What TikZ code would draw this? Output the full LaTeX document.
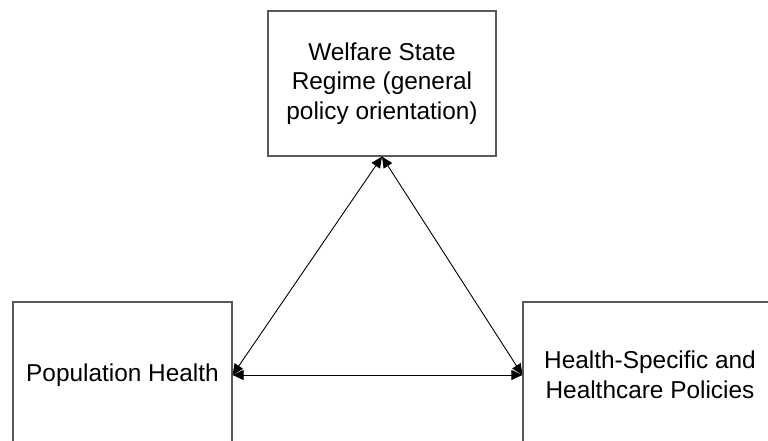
\documentclass[tikz,border=0pt]{standalone}
\usepackage{fontspec}
\setmainfont{Liberation Sans}
\usetikzlibrary{arrows.meta}
\begin{document}
\begin{tikzpicture}[x=1pt,y=-1pt,
  factor/.style={draw=black!65,line width=1.2pt,align=center,inner sep=0pt,
    font=\fontsize{24.4}{29.5}\selectfont},
  link/.style={line width=0.9pt,{Triangle[length=11pt,width=10pt]}-{Triangle[length=11pt,width=10pt]}}]
  \useasboundingbox (0,0) rectangle (768,441);
  \clip (0,0) rectangle (768,441);
  % the three factors
  \node[factor,minimum width=228pt,minimum height=145pt] (regime) at (382,83.5)
    {\raisebox{-2pt}{\parbox{228pt}{\centering Welfare State\\Regime (general\\policy orientation)}}};
  \node[factor,minimum width=219pt,minimum height=146pt] (health) at (122.5,375)
    {Population Health};
  \node[factor,minimum width=254pt,minimum height=146pt] (policy) at (650,375)
    {\raisebox{-2pt}{\parbox{254pt}{\centering Health-Specific and\\Healthcare Policies}}};
  % mutual influences
  \draw[link] (health.east) -- (regime.south);
  \draw[link] (policy.west) -- (regime.south);
  \draw[link] (health.east) -- (policy.west);
\end{tikzpicture}
\end{document}
